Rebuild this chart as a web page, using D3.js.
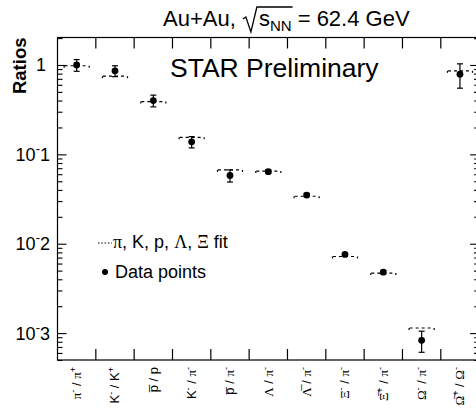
<!DOCTYPE html>
<html><head><meta charset="utf-8">
<script src="https://cdn.jsdelivr.net/npm/d3@7"></script>
<style>body{margin:0;background:#fff}svg{display:block}</style>
</head><body>
<svg id="c" width="476" height="410"></svg>
<script>
// ---- data ----
const categories = ["π^- / π^+", "K^- / K^+", "p̅ / p", "K^- / π^-", "p̅ / π^-", "Λ / π^-",
                    "Λ̅ / π^-", "Ξ^- / π^-", "Ξ̅^+ / π^-", "Ω^- / π^-", "Ω̅^+ / Ω^-"];
const dataValues = [1.0, 0.86, 0.40, 0.138, 0.058, 0.064, 0.035, 0.0076, 0.0048, 0.00083, 0.79];
const dataErrors = [0.15, 0.12, 0.06, 0.02, 0.009, 0.003, 0.0015, 0.0003, 0.0002, 0.00022, 0.24];
const fitValues  = [0.98, 0.75, 0.39, 0.155, 0.067, 0.065, 0.034, 0.0072, 0.0047, 0.00114, 0.86];
const yTickValues = [1e-3, 1e-2, 1e-1, 1];
const yTickLabels = ["10^-3", "10^-2", "10^-1", "1"];
const yDomain = [5e-4, 2.03];
const titleText = "Au+Au, ";
const titleEnergy = " = 62.4 GeV";
const watermark = "STAR Preliminary";
const yTitle = "Ratios";

// ---- layout ----
const svg = d3.select("#c");
const L = 57.5, T = 37.5, B = 360, W = 38.33;
const R = L + W * categories.length;
const SANS = "Liberation Sans, Arial, sans-serif";
const SERIF = "Liberation Serif, Times New Roman, serif";

const x = d3.scaleBand().domain(d3.range(categories.length)).range([L, R]).padding(0);
const y = d3.scaleLog().domain(yDomain).range([B, T]);
const cx = i => x(i) + x.bandwidth() / 2;

// rich text helper: "^c" superscript single char
function rich(textSel, str, size, supSize, supShift) {
  const re = /\^(.)|([^^]+)/g;
  let m, pendingDown = 0;
  while ((m = re.exec(str)) !== null) {
    if (m[1] !== undefined) {
      textSel.append("tspan").attr("font-size", supSize).attr("dy", -supShift - pendingDown).text(m[1]);
      pendingDown = -supShift;
    } else {
      const parts = m[2].match(/([πΛΞΩ][\u0305]?)|([^πΛΞΩ]+)/g);
      parts.forEach((p, k) => {
        const t = textSel.append("tspan").attr("font-size", size).text(p);
        if (/[πΛΞΩ]/.test(p)) t.attr("font-family", SERIF);
        if (k === 0 && pendingDown) { t.attr("dy", supShift); }
      });
      pendingDown = 0;
    }
  }
}

// ---- axes frame ----
const g = svg.append("g").attr("stroke", "#000").attr("fill", "none");
g.append("rect").attr("x", L).attr("y", T).attr("width", R - L).attr("height", B - T).attr("stroke-width", 1.2);

// category ticks (bottom up / top down) at bin boundaries
const bounds = d3.range(1, categories.length).map(i => x(i));
bounds.forEach(bx => {
  g.append("line").attr("x1", bx).attr("x2", bx).attr("y1", B).attr("y2", B - 11).attr("stroke-width", 1.2);
  g.append("line").attr("x1", bx).attr("x2", bx).attr("y1", T).attr("y2", T + 11).attr("stroke-width", 1.2);
});

// log ticks left/right
const minorTicks = [];
for (let e = -4; e <= 0; e++) for (let k = 2; k <= 9; k++) {
  const v = k * Math.pow(10, e);
  if (v >= yDomain[0] && v <= yDomain[1]) minorTicks.push(v);
}
const axL = d3.axisLeft(y).tickValues(yTickValues).tickSize(-9).tickFormat("");
const axLm = d3.axisLeft(y).tickValues(minorTicks).tickSize(-5).tickFormat("");
const axR = d3.axisRight(y).tickValues(yTickValues).tickSize(-9).tickFormat("");
const axRm = d3.axisRight(y).tickValues(minorTicks).tickSize(-5).tickFormat("");
[[axL, L], [axLm, L], [axR, R], [axRm, R]].forEach(([ax, px]) => {
  const a = svg.append("g").attr("transform", `translate(${px},0)`).call(ax);
  a.select(".domain").remove();
  a.selectAll("line").attr("stroke", "#000").attr("stroke-width", 1.1);
});

// y tick labels
yTickValues.forEach((v, i) => {
  const hasExp = yTickLabels[i].includes("^");
  const t = svg.append("text").attr("x", hasExp ? 50 : 46).attr("y", y(v) + 6.5)
    .attr("text-anchor", "end").attr("font-family", SANS).attr("font-size", 18).attr("fill", "#000");
  rich(t, yTickLabels[i], 18, 13, 8);
});

// y title
svg.append("text").attr("transform", `translate(26,${T}) rotate(-90)`)
  .attr("text-anchor", "end").attr("font-family", SANS).attr("font-weight", "bold")
  .attr("font-size", 18.5).attr("fill", "#000").text(yTitle);

// x category labels
categories.forEach((c, i) => {
  const t = svg.append("text").attr("transform", `translate(${cx(i) + 4.5},${B + 7}) rotate(-90)`)
    .attr("text-anchor", "end").attr("font-family", SANS).attr("font-size", 13).attr("fill", "#000");
  rich(t, c, 13, 9, 5);
});

// ---- title ----
const title = svg.append("text").attr("x", 163).attr("y", 26)
  .attr("font-family", SANS).attr("font-size", 22).attr("fill", "#000");
title.append("tspan").text(titleText);
title.append("tspan").attr("dx", 17).text("s");
title.append("tspan").attr("font-size", 15).attr("dy", 5).text("NN");
title.append("tspan").attr("dy", -5).text(titleEnergy);
{
  const node = title.node();
  const n0 = titleText.length;
  const sStart = node.getStartPositionOfChar(n0).x;
  const nnEnd = node.getEndPositionOfChar(n0 + 2).x;
  svg.append("path").attr("fill", "none").attr("stroke", "#000").attr("stroke-width", 1.3)
    .attr("d", `M${sStart - 16},${19} L${sStart - 13},${17} L${sStart - 8},${32} L${sStart - 2},${7} L${nnEnd + 1},${7}`);
}

// ---- watermark ----
svg.append("text").attr("x", 170).attr("y", 77).attr("font-family", SANS)
  .attr("font-size", 26.5).attr("fill", "#000").text(watermark);

// ---- fit markers ----
const fitG = svg.append("g").attr("stroke", "#000").attr("fill", "none").attr("stroke-width", 1.2);
fitValues.forEach((v, i) => {
  const xc = cx(i), yy = y(v);
  fitG.append("line").attr("x1", xc - 12).attr("x2", xc + 12).attr("y1", yy).attr("y2", yy)
    .attr("stroke-dasharray", "3,3");
  fitG.append("line").attr("x1", xc - 12.5).attr("x2", xc - 12.5).attr("y1", yy).attr("y2", yy + 2);
  fitG.append("line").attr("x1", xc + 12.5).attr("x2", xc + 12.5).attr("y1", yy).attr("y2", yy + 2);
});

// ---- data points ----
const dG = svg.append("g");
dataValues.forEach((v, i) => {
  const xc = cx(i);
  const hi = y(v + dataErrors[i]), lo = y(Math.max(v - dataErrors[i], yDomain[0]));
  dG.append("line").attr("x1", xc).attr("x2", xc).attr("y1", hi).attr("y2", lo).attr("stroke", "#000").attr("stroke-width", 1.2);
  [hi, lo].forEach(yy => dG.append("line").attr("x1", xc - 3).attr("x2", xc + 3).attr("y1", yy).attr("y2", yy)
    .attr("stroke", "#000").attr("stroke-width", 1.2));
  dG.append("circle").attr("cx", xc).attr("cy", y(v)).attr("r", 3.4).attr("fill", "#000");
});

// ---- legend ----
svg.append("line").attr("x1", 98).attr("x2", 112).attr("y1", 243).attr("y2", 243)
  .attr("stroke", "#000").attr("stroke-width", 1.2).attr("stroke-dasharray", "1.5,1.8");
const lg = svg.append("text").attr("x", 113).attr("y", 248).attr("font-family", SANS).attr("font-size", 18).attr("fill", "#000");
lg.append("tspan").attr("font-family", SERIF).text("π");
lg.append("tspan").text(", K, p, ");
lg.append("tspan").attr("font-family", SERIF).text("Λ");
lg.append("tspan").text(", ");
lg.append("tspan").attr("font-family", SERIF).text("Ξ");
lg.append("tspan").text(" fit");
svg.append("circle").attr("cx", 105).attr("cy", 272).attr("r", 3).attr("fill", "#000");
svg.append("text").attr("x", 115).attr("y", 278).attr("font-family", SANS).attr("font-size", 18).attr("fill", "#000").text("Data points");
</script>
</body></html>
